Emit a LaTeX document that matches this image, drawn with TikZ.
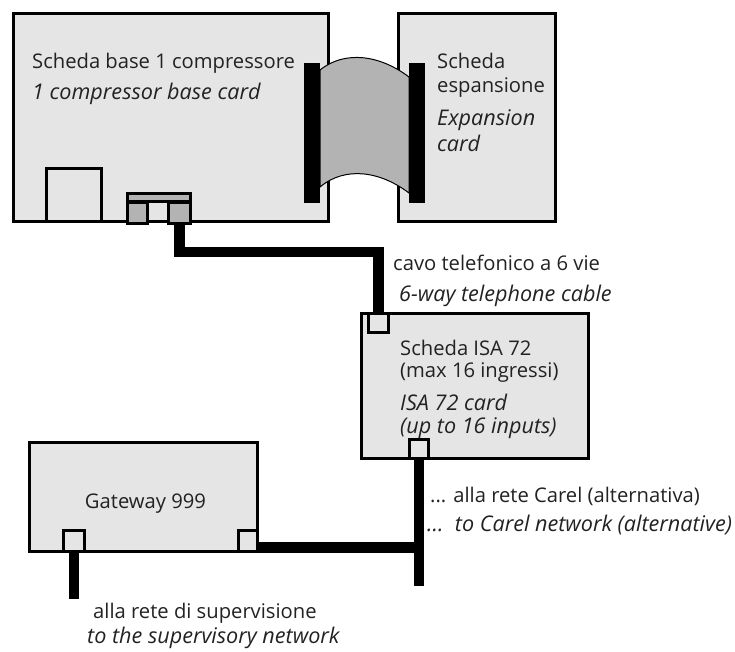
\documentclass[tikz,border=0pt]{standalone}
\usepackage{fontspec}
\setmainfont{Open Sans}
\usetikzlibrary{calc}
\definecolor{cardfill}{HTML}{E5E5E5}
\definecolor{plugfill}{HTML}{B3B3B3}
\definecolor{txt}{HTML}{222222}
\begin{document}
\begin{tikzpicture}[x=1pt,y=-1pt,
  card/.style={draw=black,line width=3pt,fill=cardfill,rectangle,inner sep=0pt,outer sep=0pt,anchor=north west},
  plug/.style={card,fill=plugfill},
  cable/.style={line width=10.5pt,draw=black},
  lbl/.style={inner sep=0pt,anchor=base west,text=txt,font=\fontsize{20.2}{24}\selectfont},
  ilbl/.style={lbl,font=\fontsize{21.6}{24}\selectfont\itshape}]
\useasboundingbox (0,0) rectangle (735,651);
% cards
\node[card,minimum width=315pt,minimum height=208pt] (base) at (13.5,13.5) {};
\node[card,minimum width=157pt,minimum height=208pt] (exp) at (398.5,13.5) {};
\node[card,minimum width=227pt,minimum height=145pt] (isa) at (361.5,313.5) {};
\node[card,minimum width=228pt,minimum height=109pt] (gw) at (29.5,442.5) {};
% ribbon cable
\draw[line width=1pt,fill=plugfill] (320,70) .. controls (345,50) and (380,55) .. (409,77)
  -- (409,193) .. controls (380,171) and (345,166) .. (320,187) -- cycle;
\node[fill=black,inner sep=0pt,minimum width=16pt,minimum height=140pt,anchor=north west] (barl) at (304,63) {};
\node[fill=black,inner sep=0pt,minimum width=16pt,minimum height=140pt,anchor=north west] (barr) at (409,63) {};
% base card details
\node[card,minimum width=55pt,minimum height=53pt] (sq) at (46.5,168.5) {};
\node[plug,minimum width=63pt,minimum height=8pt] (pbar) at (127.5,193.5) {};
\node[plug,minimum width=20pt,minimum height=21pt] (pl) at (127.5,202.5) {};
\node[plug,minimum width=22pt,minimum height=21pt] (pr) at (168.5,202.5) {};
% ports
\node[card,minimum width=20pt,minimum height=19pt] (it) at (368.5,313.5) {};
\node[card,minimum width=19pt,minimum height=19pt] (ib) at (409.5,439.5) {};
\node[card,minimum width=21pt,minimum height=21pt] (gl) at (63.5,530.5) {};
\node[card,minimum width=19pt,minimum height=21pt] (gr) at (238.5,530.5) {};
% cables
\coordinate (bend) at (378.5,252);
\coordinate (junc) at (419,547.5);
\coordinate (carelend) at (419,586);
\coordinate (supend) at (74,599);
\draw[cable] ([yshift=-1.5pt]pr.south) |- (bend) -- ([yshift=1.5pt]it.north);
\draw[cable] ([yshift=-1.5pt]ib.south) -- (carelend);
\draw[cable] ([xshift=-1.5pt]gr.east |- junc) -- ([xshift=1pt]junc);
\draw[cable] ([yshift=-1.5pt]gl.south) -- (supend);
% texts
\node[lbl] (t1) at (32,68) {Scheda base 1 compressore};
\node[ilbl] (t2) at (32,99) {1 compressor base card};
\node[lbl] (e1) at (437,68) {Scheda};
\node[lbl] (e2) at (437,92) {espansione};
\node[ilbl] (e3) at (437,125) {Expansion};
\node[ilbl] (e4) at (437,151) {card};
\node[lbl] (c1) at (393,270) {cavo telefonico a 6 vie};
\node[ilbl] (c2) at (399,301) {6-way telephone cable};
\node[lbl] (i1) at (400,355) {Scheda ISA 72};
\node[lbl] (i2) at (400,377) {(max 16 ingressi)};
\node[ilbl] (i3) at (400,410) {ISA 72 card};
\node[ilbl] (i4) at (400,433) {(up to 16 inputs)};
\node[lbl,anchor=base] (g1) at (145.5,508) {Gateway 999};
\node[lbl] (r1) at (430,502) {... alla rete Carel (alternativa)};
\node[ilbl] (r2) at (427,531) {...\hspace{4pt} to Carel network (alternative)};
\node[lbl] (s1) at (93,618) {alla rete di supervisione};
\node[ilbl] (s2) at (87,643) {to the supervisory network};
\end{tikzpicture}
\end{document}
